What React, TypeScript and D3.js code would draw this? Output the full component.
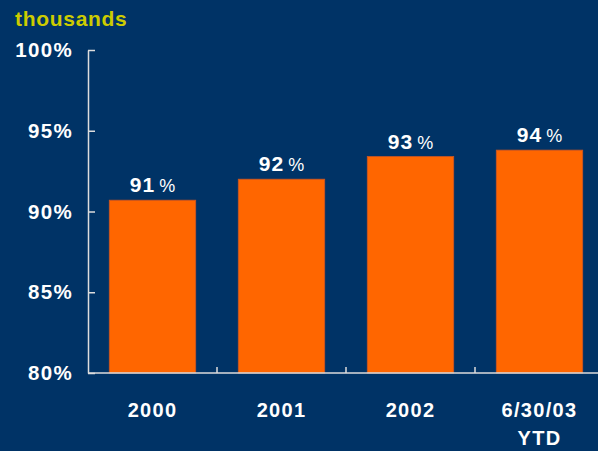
import * as d3 from 'd3'
import { useEffect, useRef } from 'react'

const categories = ['2000', '2001', '2002', '6/30/03|YTD']
const values = [90.7, 92.0, 93.4, 93.8]
const valueLabels = ['91', '92', '93', '94']
const yTicks = [80, 85, 90, 95, 100]

export default function App() {
  const ref = useRef<SVGSVGElement>(null)

  useEffect(() => {
    const svg = d3.select(ref.current)
    svg.selectAll('*').remove()
    const width = 598
    const height = 451
    const margin = { top: 50, left: 88, bottom: 78 }
    const font = 'Arial, "Liberation Sans", sans-serif'

    svg.append('rect').attr('width', width).attr('height', height).attr('fill', '#003366')

    svg.append('text')
      .attr('x', 15).attr('y', 26)
      .attr('fill', '#CCCC00')
      .attr('font-family', font).attr('font-weight', 'bold').attr('font-size', 21)
      .attr('letter-spacing', 0.7)
      .text('thousands')

    const x = d3.scaleBand()
      .domain(categories)
      .range([margin.left, margin.left + 4 * 129])
      .paddingInner(0.33)
      .paddingOuter(0.165)

    const y = d3.scaleLinear()
      .domain([80, 100])
      .range([height - margin.bottom, margin.top])

    // bars
    svg.append('g')
      .selectAll('rect')
      .data(values)
      .join('rect')
      .attr('x', (_, i) => x(categories[i])!)
      .attr('width', x.bandwidth())
      .attr('y', d => y(d))
      .attr('height', d => y(80) - y(d))
      .attr('fill', '#FF6600')
      .attr('stroke', '#cc5522')
      .attr('stroke-width', 0.8)

    // value labels
    const lab = svg.append('g')
      .selectAll('text')
      .data(values)
      .join('text')
      .attr('x', (_, i) => x(categories[i])! + x.bandwidth() / 2)
      .attr('y', d => y(d) - 8)
      .attr('text-anchor', 'middle')
      .attr('fill', 'white')
      .attr('font-family', font)
      .attr('font-weight', 'bold')
      .attr('font-size', 21)
    lab.append('tspan').attr('letter-spacing', 1).text((_, i) => valueLabels[i])
    lab.append('tspan').attr('dx', 4).attr('font-size', 18).attr('font-weight', 'normal').text('%')

    // axes
    const axisColor = '#dddddd'
    const yAxis = svg.append('g')
      .attr('transform', `translate(${margin.left},0)`)
      .call(d3.axisRight(y).tickValues(yTicks).tickSize(7).tickFormat(() => '').tickSizeOuter(0))
    yAxis.selectAll('path, line').attr('stroke', axisColor).attr('stroke-width', 1.5)

    svg.append('g')
      .selectAll('text')
      .data(yTicks)
      .join('text')
      .attr('x', 73)
      .attr('y', d => y(d) + 7)
      .attr('text-anchor', 'end')
      .attr('fill', 'white')
      .attr('font-family', font)
      .attr('font-weight', 'bold')
      .attr('font-size', 20.5)
      .attr('letter-spacing', 1.3)
      .text(d => `${d}%`)

    svg.append('line')
      .attr('x1', margin.left).attr('x2', width)
      .attr('y1', y(80)).attr('y2', y(80))
      .attr('stroke', axisColor).attr('stroke-width', 1.5)

    const step = x.step()
    svg.append('g')
      .selectAll('line')
      .data(categories.slice(1))
      .join('line')
      .attr('x1', (_, i) => margin.left + (i + 1) * step)
      .attr('x2', (_, i) => margin.left + (i + 1) * step)
      .attr('y1', y(80)).attr('y2', y(80) - 6)
      .attr('stroke', axisColor).attr('stroke-width', 1.5)

    const xl = svg.append('g')
      .selectAll('text')
      .data(categories)
      .join('text')
      .attr('x', d => x(d)! + x.bandwidth() / 2)
      .attr('y', 417)
      .attr('text-anchor', 'middle')
      .attr('fill', 'white')
      .attr('font-family', font)
      .attr('font-weight', 'bold')
      .attr('font-size', 20)
      .attr('letter-spacing', 1.3)
    xl.each(function (d) {
      const parts = d.split('|')
      const t = d3.select(this)
      parts.forEach((p, j) => {
        t.append('tspan')
          .attr('x', x(d)! + x.bandwidth() / 2)
          .attr('dy', j === 0 ? 0 : 28)
          .text(p)
      })
    })
  }, [])

  return (
    <svg ref={ref} width={598} height={451}
      style={{ position: 'absolute', left: 0, top: 0, display: 'block' }} />
  )
}
